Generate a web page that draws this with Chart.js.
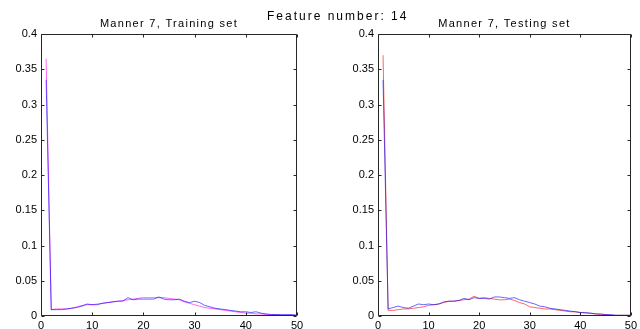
<!DOCTYPE html>
<html>
<head>
<meta charset="utf-8">
<script src="https://cdn.jsdelivr.net/npm/chart.js@4.4.0/dist/chart.umd.min.js"></script>
<style>
  html, body { margin: 0; padding: 0; background: #fff; }
  #fig { position: relative; width: 640px; height: 329px; overflow: hidden; background: #fff; }
  #fig canvas { position: absolute; top: 0; }
  #suptitle {
    position: absolute; top: 10px; left: 267px;
    font: 12px "Liberation Sans", Arial, sans-serif; line-height: 13px;
    letter-spacing: 2px; color: #000; white-space: nowrap;
  }
</style>
</head>
<body>
<div id="fig">
  <canvas id="train" width="320" height="329" style="left:0"></canvas>
  <canvas id="test" width="320" height="329" style="left:320px"></canvas>
  <div id="suptitle">Feature number: 14</div>
</div>
<script>
// histogram bins
const bins = [1,2,3,4,5,6,7,8,9,10,11,12,13,14,15,16,17,18,19,20,21,22,23,24,25,
              26,27,28,29,30,31,32,33,34,35,36,37,38,39,40,41,42,43,44,45,46,47,48,49,50];

// training set distributions
const trainMagenta = [0.365,0.009,0.010,0.010,0.010,0.011,0.013,0.015,0.016,0.016,
                      0.017,0.018,0.019,0.020,0.021,0.022,0.023,0.024,0.025,0.026,
                      0.026,0.026,0.026,0.026,0.025,0.024,0.023,0.020,0.018,0.016,
                      0.014,0.012,0.011,0.010,0.009,0.008,0.007,0.006,0.005,0.004,
                      0.004,0.003,0.003,0.002,0.002,0.002,0.001,0.001,0.001,0.001];
const trainBlue    = [0.335,0.009,0.009,0.009,0.010,0.011,0.012,0.014,0.017,0.016,
                      0.016,0.018,0.019,0.020,0.021,0.021,0.026,0.023,0.024,0.024,
                      0.024,0.024,0.027,0.024,0.023,0.023,0.024,0.021,0.019,0.021,
                      0.019,0.015,0.013,0.011,0.010,0.009,0.008,0.007,0.006,0.006,
                      0.005,0.006,0.004,0.003,0.002,0.002,0.002,0.002,0.002,0.001];

// testing set distributions
const testRed  = [0.370,0.008,0.008,0.009,0.010,0.010,0.011,0.012,0.013,0.015,
                  0.016,0.017,0.019,0.021,0.021,0.022,0.023,0.024,0.028,0.025,
                  0.026,0.025,0.024,0.023,0.023,0.024,0.022,0.019,0.017,0.013,
                  0.012,0.011,0.010,0.010,0.009,0.008,0.007,0.006,0.006,0.005,
                  0.004,0.004,0.003,0.002,0.002,0.001,0.001,0.001,0.001,0.001];
const testBlue = [0.335,0.010,0.012,0.014,0.012,0.011,0.014,0.017,0.016,0.017,
                  0.016,0.017,0.020,0.021,0.021,0.022,0.025,0.023,0.026,0.025,
                  0.025,0.024,0.027,0.027,0.026,0.025,0.026,0.023,0.021,0.019,
                  0.017,0.014,0.013,0.011,0.010,0.009,0.008,0.007,0.006,0.005,
                  0.005,0.004,0.003,0.003,0.002,0.002,0.001,0.001,0.001,0.001];

const xTicks = [0, 10, 20, 30, 40, 50];
const yTicks = [0, 0.05, 0.1, 0.15, 0.2, 0.25, 0.3, 0.35, 0.4];

const FONT = '"Liberation Sans", Arial, Helvetica, sans-serif';

// axes box with inward tick marks on all four sides, plus the subplot title
const boxAxes = {
  id: 'boxAxes',
  afterDatasetsDraw(chart, args, opts) {
    const { ctx, chartArea: a, scales: { x, y } } = chart;
    const L = Math.round(a.left) + 0.5, R = Math.round(a.right) - 0.5;
    const T = Math.round(a.top) + 0.5, B = Math.round(a.bottom) - 0.5;
    const len = 3;
    ctx.save();
    ctx.strokeStyle = '#262626';
    ctx.lineWidth = 1;
    ctx.beginPath();
    ctx.rect(L, T, R - L, B - T);
    xTicks.forEach(v => {
      const px = Math.round(x.getPixelForValue(v)) + 0.5;
      ctx.moveTo(px, B); ctx.lineTo(px, B - len);
      ctx.moveTo(px, T); ctx.lineTo(px, T + len);
    });
    yTicks.forEach(v => {
      const py = Math.round(y.getPixelForValue(v)) + 0.5;
      ctx.moveTo(L, py); ctx.lineTo(L + len, py);
      ctx.moveTo(R, py); ctx.lineTo(R - len, py);
    });
    ctx.stroke();
    ctx.restore();
  },
  afterDraw(chart, args, opts) {
    const { ctx, chartArea: a } = chart;
    ctx.save();
    ctx.font = '11px ' + FONT;
    ctx.letterSpacing = '1.3px';
    ctx.fillStyle = '#000';
    ctx.textAlign = 'center';
    ctx.textBaseline = 'middle';
    ctx.fillText(opts.text, (a.left + a.right) / 2, 24);
    ctx.restore();
  }
};

function makePlot(id, title, series, yAxisWidth, rightPad) {
  return new Chart(document.getElementById(id), {
    type: 'line',
    data: {
      labels: bins,
      datasets: series.map(s => ({
        data: bins.map((b, i) => ({ x: b, y: s.values[i] })),
        borderColor: s.color,
        borderWidth: 1,
        pointRadius: 0,
        tension: 0,
        fill: false
      }))
    },
    options: {
      responsive: false,
      animation: false,
      devicePixelRatio: 1,
      layout: { padding: { top: 34, right: rightPad, left: 0, bottom: 0 } },
      plugins: {
        legend: { display: false },
        tooltip: { enabled: false },
        boxAxes: { text: title }
      },
      scales: {
        x: {
          type: 'linear', min: 0, max: 50,
          afterBuildTicks: sc => { sc.ticks = xTicks.map(v => ({ value: v })); },
          grid: { display: false, drawTicks: false },
          border: { display: false },
          ticks: { color: '#000', font: { family: FONT, size: 11 }, padding: 3, maxRotation: 0 },
          afterFit: sc => { sc.height = 13; }
        },
        y: {
          type: 'linear', min: 0, max: 0.4,
          afterBuildTicks: sc => { sc.ticks = yTicks.map(v => ({ value: v })); },
          grid: { display: false, drawTicks: false },
          border: { display: false },
          ticks: {
            color: '#000', font: { family: FONT, size: 11 }, padding: 4,
            callback: v => String(+v.toFixed(2))
          },
          afterFit: sc => { sc.width = yAxisWidth; }
        }
      }
    },
    plugins: [boxAxes]
  });
}

makePlot('train', 'Manner 7, Training set', [
  { values: trainBlue, color: 'rgba(0,0,255,0.6)' },
  { values: trainMagenta, color: 'rgba(255,0,255,0.6)' }
], 41, 23);

makePlot('test', 'Manner 7, Testing set', [
  { values: testBlue, color: 'rgba(0,0,255,0.6)' },
  { values: testRed, color: 'rgba(255,0,0,0.6)' }
], 58, 7);
</script>
</body>
</html>
